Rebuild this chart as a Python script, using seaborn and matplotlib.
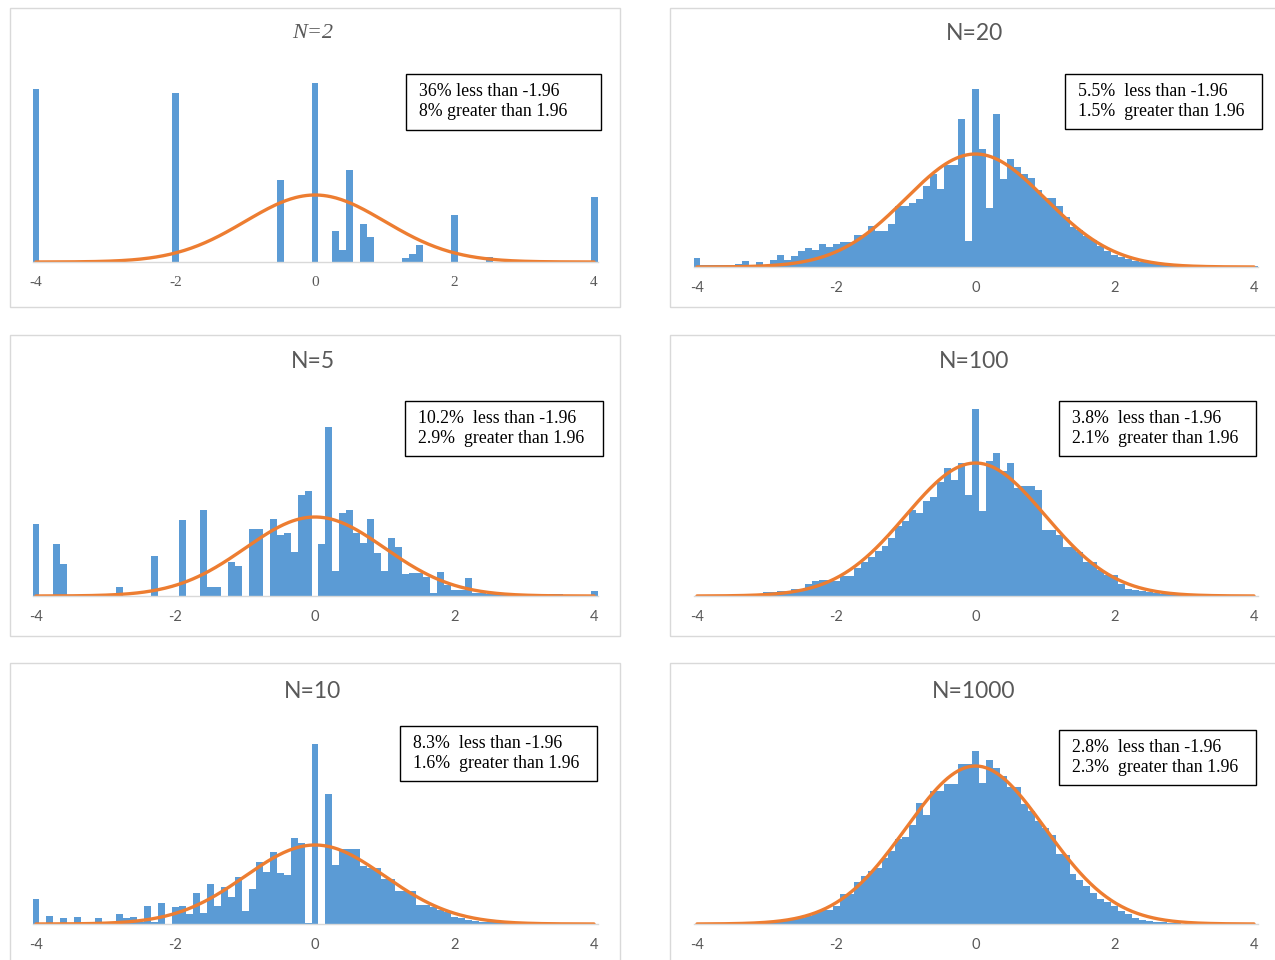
import numpy as np
import pandas as pd
import matplotlib
matplotlib.use("Agg")
import matplotlib.pyplot as plt
from matplotlib.patches import Rectangle
import seaborn as sns

sns.set_style("white")
plt.rcParams["font.family"] = ["Lato", "DejaVu Sans"]

W, H, DPI = 1275, 960, 100
BLUE = "#5B9BD5"
ORANGE = "#ED7D31"
GREY_TXT = "#595959"
GREY_LINE = "#D9D9D9"

# bin centres of the t-statistic histograms (width 0.1)
bin_centers = np.round(np.arange(-40, 41) / 10, 1)
tick_values = [-4, -2, 0, 2, 4]
tick_labels = ["-4", "-2", "0", "2", "4"]

titles = ["N=2", "N=20", "N=5", "N=100", "N=10", "N=1000"]
pct_below = ["36%", "5.5%", "10.2%", "3.8%", "8.3%", "2.8%"]
pct_above = ["8%", "1.5%", "2.9%", "2.1%", "1.6%", "2.3%"]

# share of simulated t-statistics per bin (percent)
pct_n2 = [10.31, 0, 0, 0, 0, 0, 0, 0, 0, 0,
          0, 0, 0, 0, 0, 0, 0, 0, 0, 0,
          10.07, 0, 0, 0, 0, 0, 0, 0, 0, 0,
          0, 0, 0, 0, 0, 4.89, 0, 0, 0, 0,
          10.63, 0, 0, 1.84, 0.70, 5.49, 0, 2.29, 1.46, 0,
          0, 0, 0, 0.26, 0.50, 1.00, 0, 0, 0, 0,
          2.77, 0, 0, 0, 0, 0.30, 0, 0, 0, 0,
          0, 0, 0, 0, 0, 0, 0, 0, 0, 0,
          3.89]

pct_n20 = [0.31, 0.07, 0.07, 0.07, 0.07, 0.06, 0.12, 0.21, 0.07, 0.18,
           0.07, 0.26, 0.43, 0.23, 0.38, 0.56, 0.66, 0.59, 0.80, 0.70,
           0.81, 0.89, 0.90, 1.14, 1.14, 1.44, 1.26, 1.26, 1.52, 2.14,
           2.14, 2.26, 2.41, 2.85, 3.28, 2.77, 3.60, 3.60, 5.23, 0.93,
           6.30, 4.17, 2.08, 5.41, 3.10, 3.81, 3.52, 3.30, 3.15, 2.73,
           2.44, 2.44, 2.14, 1.76, 1.40, 1.30, 1.10, 0.95, 0.75, 0.55,
           0.43, 0.35, 0.29, 0.22, 0.18, 0.14, 0.10, 0.08, 0.06, 0.05,
           0.04, 0.03, 0.03, 0.02, 0.02, 0.01, 0.01, 0.01, 0.01, 0.01,
           0.02]

pct_n5 = [3.62, 0, 0, 2.65, 1.64, 0, 0, 0, 0, 0,
          0, 0, 0.44, 0, 0, 0, 0, 2.03, 0, 0,
          0, 3.82, 0, 0, 4.32, 0.44, 0.44, 0, 1.73, 1.53,
          0, 3.37, 3.37, 0, 3.87, 3.10, 3.17, 2.23, 5.08, 5.28,
          0, 2.65, 8.51, 1.27, 4.19, 4.32, 3.18, 2.68, 3.91, 2.15,
          1.26, 2.93, 2.48, 1.09, 1.14, 1.17, 0.97, 0.17, 1.19, 0.55,
          0.30, 0.30, 0.89, 0.17, 0.13, 0.08, 0.08, 0.15, 0.15, 0.05,
          0.05, 0.05, 0, 0, 0.10, 0.10, 0, 0, 0, 0,
          0.25]

pct_n100 = [0, 0, 0, 0.01, 0.01, 0.02, 0.04, 0.04, 0.05, 0.05,
            0.12, 0.12, 0.14, 0.14, 0.22, 0.22, 0.35, 0.45, 0.48, 0.48,
            0.45, 0.61, 0.61, 0.83, 1.03, 1.18, 1.36, 1.51, 1.73, 2.09,
            2.24, 2.59, 2.49, 2.84, 2.97, 3.41, 3.84, 3.49, 3.99, 3.04,
            5.61, 2.56, 4.06, 4.29, 3.75, 3.99, 3.25, 3.29, 3.29, 3.19,
            1.98, 1.98, 1.83, 1.48, 1.48, 1.33, 1.03, 1.03, 0.77, 0.62,
            0.62, 0.37, 0.20, 0.17, 0.14, 0.11, 0.08, 0.06, 0.05, 0.04,
            0.03, 0.02, 0.02, 0.01, 0.01, 0.01, 0, 0, 0, 0,
            0]

pct_n10 = [1.25, 0, 0.42, 0, 0.29, 0, 0.35, 0, 0, 0.29,
           0, 0, 0.49, 0.29, 0.35, 0.10, 0.93, 0.12, 1.04, 0,
           0.86, 0.93, 0.49, 1.55, 0.54, 2.00, 0.93, 1.89, 1.38, 2.39,
           0.67, 1.75, 3.15, 2.64, 3.65, 2.59, 2.48, 4.36, 4.11, 0.05,
           9.09, 0, 6.55, 2.98, 3.79, 3.79, 3.79, 2.95, 2.85, 2.85,
           2.27, 2.27, 1.68, 1.68, 1.68, 0.96, 0.96, 0.85, 0.71, 0.62,
           0.34, 0.29, 0.20, 0.15, 0.12, 0.10, 0.08, 0.06, 0.05, 0.04,
           0.03, 0.02, 0.02, 0.01, 0.01, 0, 0, 0, 0, 0,
           0]

pct_n1000 = [0, 0, 0, 0, 0, 0, 0, 0, 0, 0.02,
             0.03, 0.04, 0.06, 0.10, 0.16, 0.16, 0.21, 0.27, 0.35, 0.36,
             0.46, 0.75, 0.75, 1.07, 1.20, 1.33, 1.41, 1.66, 1.85, 2.15,
             2.19, 2.51, 3.06, 2.76, 3.35, 3.35, 3.54, 3.54, 4.05, 4.05,
             4.37, 3.57, 4.13, 3.95, 3.74, 3.45, 3.45, 3.03, 2.86, 2.59,
             2.43, 2.25, 1.77, 1.75, 1.25, 1.10, 0.95, 0.78, 0.62, 0.55,
             0.45, 0.33, 0.25, 0.15, 0.10, 0.07, 0.05, 0.04, 0.03, 0.02,
             0.01, 0.01, 0, 0, 0, 0, 0, 0, 0, 0,
             0]

series = [pct_n2, pct_n20, pct_n5, pct_n100, pct_n10, pct_n1000]

# standard normal density scaled to percent per 0.1-wide bin
curve_x = np.linspace(-4, 4, 321)
curve_y = 10 * np.exp(-curve_x ** 2 / 2) / np.sqrt(2 * np.pi)
curve_peak = 10 / np.sqrt(2 * np.pi)

# layout in pixels: plot-area x range, baseline, top, pixel height of curve peak
col_x = [(32.5, 597.5), (693.5, 1257.5)]
baseline_px = [262, 267, 596, 596, 924, 924]
top_px = [72, 77, 402, 402, 732, 732]
peak_px = [67, 113, 79, 133, 79, 158]
title_pos = [(313, 33), (974, 34), (313, 362), (974, 362), (313, 691), (974, 691)]
box_px = [(406, 74, 601, 130), (1065, 74, 1262, 129), (405, 401, 603, 456),
          (1059, 401, 1256, 456), (400, 726, 597, 781), (1059, 730, 1256, 785)]
frame_px = [(10, 8, 620, 307), (670, 8, 1290, 307), (10, 335, 620, 636),
            (670, 335, 1290, 636), (10, 663, 620, 975), (670, 663, 1290, 975)]

fig = plt.figure(figsize=(W / DPI, H / DPI), dpi=DPI)
fig.patch.set_facecolor("white")


def fx(x):
    return x / W


def fy(y):
    return 1 - y / H


for k in range(6):
    col = k % 2
    serif = k == 0
    x0, x1 = col_x[col]
    y_base, y_top = baseline_px[k], top_px[k]

    fl, ft, fr, fb = frame_px[k]
    fig.patches.append(Rectangle((fx(fl), fy(fb)), (fr - fl) / W, (fb - ft) / H,
                                 transform=fig.transFigure, fill=False,
                                 edgecolor=GREY_LINE, linewidth=1.0, zorder=0))

    ax = fig.add_axes([fx(x0), fy(y_base), (x1 - x0) / W, (y_base - y_top) / H])
    ax.set_facecolor("none")
    hist_df = pd.DataFrame({"t": bin_centers, "pct": series[k]})
    sns.histplot(data=hist_df, x="t", weights="pct", binwidth=0.1,
                 binrange=(-4.05, 4.05), color=BLUE, alpha=1, linewidth=0,
                 edgecolor=BLUE, ax=ax)
    sns.lineplot(x=curve_x, y=curve_y, color=ORANGE, linewidth=2.4,
                 estimator=None, ax=ax)

    ax.set_xlim(-4.05, 4.05)
    ax.set_ylim(0, curve_peak * (y_base - y_top) / peak_px[k])
    ax.set_yticks([])
    ax.set_xlabel("")
    ax.set_ylabel("")
    for side in ("top", "left", "right"):
        ax.spines[side].set_visible(False)
    ax.spines["bottom"].set_color(GREY_LINE)
    ax.spines["bottom"].set_linewidth(1.0)
    ax.set_xticks(tick_values)
    ax.set_xticklabels(tick_labels,
                       family=["Liberation Serif"] if serif else ["Lato", "DejaVu Sans"],
                       fontsize=11 if serif else 10.5, color=GREY_TXT)
    ax.tick_params(axis="x", length=0, pad=10)

    tx, ty = title_pos[k]
    if serif:
        fig.text(fx(tx), fy(ty), titles[k], ha="center", va="center",
                 family=["Liberation Serif"], style="italic", fontsize=16,
                 color=GREY_TXT)
    else:
        fig.text(fx(tx), fy(ty), titles[k], ha="center", va="center",
                 family=["Lato", "DejaVu Sans"], fontsize=16.5, color=GREY_TXT)

    bl, bt, br, bb = box_px[k]
    fig.patches.append(Rectangle((fx(bl), fy(bb)), (br - bl) / W, (bb - bt) / H,
                                 transform=fig.transFigure, facecolor="white",
                                 edgecolor="black", linewidth=1.0, zorder=5))
    gap = " " if k == 0 else "  "
    line1 = f"{pct_below[k]}{gap}less than -1.96"
    line2 = f"{pct_above[k]}{gap}greater than 1.96"
    fig.text(fx(bl + 13), fy(bt + 17.5), line1, ha="left", va="center",
             family=["Liberation Serif"], fontsize=12.8, color="black", zorder=6)
    fig.text(fx(bl + 13), fy(bt + 37.5), line2, ha="left", va="center",
             family=["Liberation Serif"], fontsize=12.8, color="black", zorder=6)

fig.savefig("out.png", dpi=DPI, facecolor="white")
